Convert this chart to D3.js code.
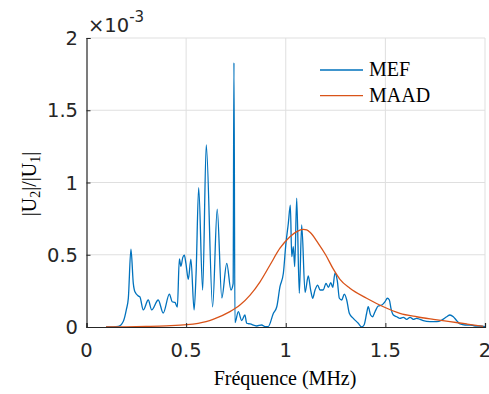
<!DOCTYPE html>
<html><head><meta charset="utf-8">
<script src="https://cdn.jsdelivr.net/npm/d3@7"></script>
<style>html,body{margin:0;padding:0;background:#fff;}svg{display:block;}</style>
</head><body>
<svg id="chart" width="489" height="394"></svg>
<script>
// ---- data (frequency in MHz, amplitude ratio x 1e-3) ----
const mefFreq = [0.098,0.16,0.185,0.200,0.210,0.223,0.235,0.243,0.262,0.268,0.285,0.310,0.327,0.360,0.385,0.416,0.430,0.444,0.456,
  0.466,0.474,0.483,0.491,0.499,0.511,0.524,0.540,0.550,0.563,0.583,0.601,0.633,0.656,0.679,0.704,0.725,0.736,0.740,0.745,
  0.762,0.779,0.795,0.804,0.821,0.854,0.879,0.896,0.912,0.938,0.955,0.971,0.988,1.001,1.013,1.023,1.030,1.038,1.045,1.055,
  1.068,1.080,1.097,1.113,1.125,1.135,1.147,1.160,1.172,1.188,1.202,1.214,1.226,1.236,1.247,1.259,1.269,1.281,1.294,1.306,
  1.319,1.339,1.364,1.381,1.393,1.406,1.414,1.426,1.436,1.448,1.464,1.482,1.498,1.510,1.520,1.528,1.540,1.557,1.573,1.590,
  1.607,1.624,1.640,1.657,1.674,1.690,1.724,1.758,1.783,1.808,1.824,1.841,1.858,1.875,1.900,1.925,1.950,1.975,2.0];
const mefVal = [0,0.005,0.04,0.12,0.20,0.538,0.30,0.244,0.213,0.208,0.118,0.187,0.118,0.187,0.097,0.228,0.175,0.170,0.138,
  0.471,0.420,0.480,0.498,0.440,0.33,0.47,0.118,0.37,0.964,0.256,1.260,0.140,0.815,0.201,0.441,0.256,0.30,1.829,0.03,
  0.106,0.045,0.083,0.026,0.021,0.007,0.014,0.003,0.003,0.095,0.14,0.279,0.372,0.58,0.718,0.844,0.487,0.556,0.418,0.891,
  0.233,0.706,0.240,0.353,0.256,0.199,0.256,0.290,0.256,0.256,0.302,0.274,0.307,0.274,0.372,0.318,0.199,0.187,0.228,0.187,
  0.095,0.060,0.026,0.0,0.014,0.095,0.140,0.083,0.071,0.106,0.145,0.152,0.175,0.199,0.187,0.129,0.083,0.071,0.060,0.067,
  0.053,0.067,0.053,0.060,0.053,0.044,0.037,0.037,0.048,0.071,0.083,0.071,0.044,0.021,0.014,0.014,0.007,0.007,0.002];
const maadFreq = [0.098,0.2,0.3,0.4,0.503,0.6,0.635,0.72,0.77,0.821,0.871,0.921,0.971,1.021,1.055,1.088,1.105,1.122,1.163,
  1.20,1.239,1.272,1.322,1.406,1.490,1.573,1.657,1.741,1.824,1.908,1.991];
const maadVal = [0,0.001,0.004,0.008,0.016,0.038,0.053,0.106,0.152,0.221,0.313,0.429,0.545,0.625,0.66,0.676,0.672,0.655,0.579,
  0.50,0.40,0.33,0.268,0.199,0.140,0.095,0.071,0.053,0.037,0.021,0.005];
const seriesNames = ["MEF", "MAAD"];
const xTicks = [0, 0.5, 1, 1.5, 2];
const xTickLabels = ["0", "0.5", "1", "1.5", "2"];
const yTicks = [0, 0.5, 1, 1.5, 2];
const yTickLabels = ["0", "0.5", "1", "1.5", "2"];

// ---- layout ----
const svg = d3.select("#chart");
const L = 86.5, R = 485, T = 38, B = 327;
const x = d3.scaleLinear().domain([0, 2]).range([L, R]);
const y = d3.scaleLinear().domain([0, 2]).range([B, T]);
const colors = ["#0072BD", "#D95319"];
const axisColor = "#262626";
const SANS = '"DejaVu Sans"';
const SERIF = '"Liberation Serif"';

// grid
const grid = svg.append("g");
grid.selectAll("line.gx").data(xTicks.filter(d => d > 0)).enter().append("line")
  .attr("x1", d => x(d)).attr("x2", d => x(d)).attr("y1", T).attr("y2", B)
  .attr("stroke", "#dfdfdf").attr("stroke-width", 1);
grid.selectAll("line.gy").data(yTicks.filter(d => d > 0)).enter().append("line")
  .attr("x1", L).attr("x2", R).attr("y1", d => y(d)).attr("y2", d => y(d))
  .attr("stroke", "#dfdfdf").attr("stroke-width", 1);

// lines
const plot = svg.append("g");
const mef = mefFreq.map((f, i) => [f, mefVal[i]]);
const maad = maadFreq.map((f, i) => [f, maadVal[i]]);
const line = d3.line().x(d => x(d[0])).y(d => y(d[1])).curve(d3.curveMonotoneX);
plot.append("path").datum(mef).attr("d", line).attr("fill", "none")
  .attr("stroke", colors[0]).attr("stroke-width", 1.3).attr("stroke-linejoin", "round");
plot.append("path").datum(maad).attr("d", line).attr("fill", "none")
  .attr("stroke", colors[1]).attr("stroke-width", 1.3);

// axes
const xAxis = d3.axisBottom(x).tickValues(xTicks).tickSize(-4).tickFormat("");
const yAxis = d3.axisLeft(y).tickValues(yTicks).tickSize(-4).tickFormat("");
const gx = svg.append("g").attr("transform", `translate(0,${B})`).call(xAxis);
const gy = svg.append("g").attr("transform", `translate(${L},0)`).call(yAxis);
[gx, gy].forEach(g => {
  g.selectAll("path").attr("stroke", axisColor).attr("stroke-width", 1.2);
  g.selectAll("line").attr("stroke", axisColor).attr("stroke-width", 1);
});

// tick labels
xTicks.forEach((t, i) => svg.append("text").attr("font-size", 19.5).style("font-family", SANS)
  .attr("x", x(t)).attr("y", 357).attr("text-anchor", "middle")
  .attr("fill", axisColor).text(xTickLabels[i]));
yTicks.forEach((t, i) => svg.append("text").attr("font-size", 19.5).style("font-family", SANS)
  .attr("x", 78).attr("y", y(t) + 7).attr("text-anchor", "end")
  .attr("fill", axisColor).text(yTickLabels[i]));

// exponent
const et = svg.append("text").attr("font-size", 19.5).style("font-family", SANS)
  .attr("x", 88).attr("y", 32).attr("fill", axisColor);
et.append("tspan").text("\u00d710");
et.append("tspan").attr("font-size", 15).attr("dy", -10).text("-3");

// x label
svg.append("text").attr("font-size", 20).style("font-family", SERIF)
  .attr("x", 285).attr("y", 385).attr("text-anchor", "middle").attr("fill", "#000")
  .text("Fréquence (MHz)");

// y label
const yl = svg.append("text").attr("font-size", 20).style("font-family", SERIF)
  .attr("text-anchor", "middle").attr("fill", "#000")
  .attr("transform", "translate(36,184) rotate(-90)").attr("x", 0).attr("y", 0);
yl.append("tspan").text("|U");
yl.append("tspan").attr("font-size", 14).attr("dy", 4).text("2");
yl.append("tspan").attr("dy", -4).text("|/|U");
yl.append("tspan").attr("font-size", 14).attr("dy", 4).text("1");
yl.append("tspan").attr("dy", -4).text("|");

// legend
const legY = [70, 95.7];
seriesNames.forEach((n, i) => {
  svg.append("line").attr("x1", 320).attr("x2", 363).attr("y1", legY[i]).attr("y2", legY[i])
    .attr("stroke", colors[i]).attr("stroke-width", 1.3);
  svg.append("text").attr("font-size", 20).style("font-family", SERIF)
    .attr("x", 369).attr("y", legY[i] + 6).attr("fill", "#000").text(n);
});
</script>
</body></html>
